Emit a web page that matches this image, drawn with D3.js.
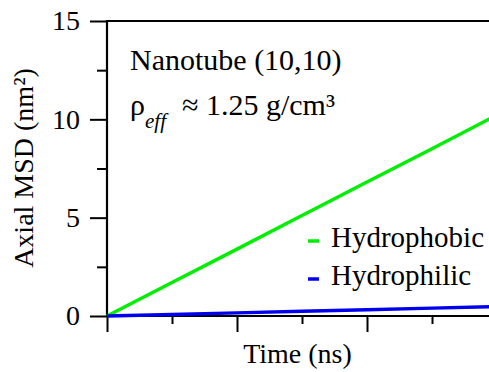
<!DOCTYPE html>
<html>
<head>
<meta charset="utf-8">
<script src="https://cdn.jsdelivr.net/npm/d3@7"></script>
</head>
<body style="margin:0;padding:0;background:#fff">
<svg id="chart" width="489" height="372" style="display:block"></svg>
<script>
// ---- data ----
const timeNs = [0, 1, 2, 3, 4, 5, 5.9];
const hydrophobic = [0, 1.70, 3.40, 5.11, 6.81, 8.51, 10.05];
const hydrophilic = [0, 0.08, 0.16, 0.24, 0.32, 0.40, 0.47];
const seriesNames = ["Hydrophobic", "Hydrophilic"];
const seriesColors = ["#00ee00", "#0000ee"];
const yMajorTicks = [0, 5, 10, 15];
const yMinorTicks = [2.5, 7.5, 12.5];
const xMajorTicks = [0, 2, 4];
const xMinorTicks = [1, 3, 5];

const FONT = "'Liberation Serif'";
const svg = d3.select("#chart");
const x = d3.scaleLinear().domain([0, 5.9]).range([107, 490.5]);
const y = d3.scaleLinear().domain([0, 15]).range([316, 21]);

const line = d3.line().x(d => x(d[0])).y(d => y(d[1]));
const seriesData = [hydrophobic, hydrophilic];

const yAxisMajor = d3.axisLeft(y).tickValues(yMajorTicks).tickSize(17).tickPadding(10).tickFormat(d3.format("d"));
const yAxisMinor = d3.axisLeft(y).tickValues(yMinorTicks).tickSize(10).tickFormat("");
const xAxisMajor = d3.axisBottom(x).tickValues(xMajorTicks).tickSize(16).tickFormat("");
const xAxisMinor = d3.axisBottom(x).tickValues(xMinorTicks).tickSize(8).tickFormat("");

function styleAxis(g) {
  g.select(".domain").remove();
  g.selectAll(".tick line").attr("stroke", "#000").attr("stroke-width", 2);
  g.selectAll(".tick text").style("font-family", FONT).style("font-size", "28px").attr("fill", "#000");
}

svg.append("g").attr("transform", "translate(107,0)").call(yAxisMajor).call(styleAxis);
svg.append("g").attr("transform", "translate(107,0)").call(yAxisMinor).call(styleAxis);
svg.append("g").attr("transform", "translate(0,316)").call(xAxisMajor).call(styleAxis);
svg.append("g").attr("transform", "translate(0,316)").call(xAxisMinor).call(styleAxis);

// spines (left, bottom, top)
svg.append("line").attr("x1", 107).attr("x2", 107).attr("y1", y(15) - 1).attr("y2", 317).attr("stroke", "#000").attr("stroke-width", 2.2);
svg.append("line").attr("x1", 106).attr("x2", 489).attr("y1", 316).attr("y2", 316).attr("stroke", "#000").attr("stroke-width", 2.2);
svg.append("line").attr("x1", 106).attr("x2", 489).attr("y1", y(15)).attr("y2", y(15)).attr("stroke", "#000").attr("stroke-width", 2.2);

seriesData.forEach((vals, i) => {
  svg.append("path")
    .datum(timeNs.map((t, j) => [t, vals[j]]))
    .attr("d", line)
    .attr("fill", "none")
    .attr("stroke", seriesColors[i])
    .attr("stroke-width", 3.4);
});

function txt(sel) { return sel.style("font-family", FONT).attr("fill", "#000"); }

// axis labels
txt(svg.append("text")).attr("x", 297.5).attr("y", 363).attr("text-anchor", "middle")
  .style("font-size", "28px").text("Time (ns)");
txt(svg.append("text")).attr("transform", "translate(33,168) rotate(-90)").attr("text-anchor", "middle")
  .style("font-size", "28px").text("Axial MSD (nm²)");

// annotations
txt(svg.append("text")).attr("x", 130).attr("y", 70).style("font-size", "30px").text("Nanotube (10,10)");
const rho = txt(svg.append("text")).attr("x", 130).attr("y", 115).style("font-size", "30px");
rho.append("tspan").text("ρ");
rho.append("tspan").attr("x", 145).attr("y", 128).style("font-size", "21px").style("font-style", "italic").text("eff");
rho.append("tspan").attr("x", 182).attr("y", 115).text("≈ 1.25 g/cm³");

// legend
const legendY = [247, 285];
seriesNames.forEach((name, i) => {
  svg.append("line").attr("x1", 308).attr("x2", 319)
    .attr("y1", legendY[i] - 6).attr("y2", legendY[i] - 6)
    .attr("stroke", seriesColors[i]).attr("stroke-width", 3.5);
  txt(svg.append("text")).attr("x", 331).attr("y", legendY[i]).style("font-size", "29px").text(name);
});
</script>
</body>
</html>
